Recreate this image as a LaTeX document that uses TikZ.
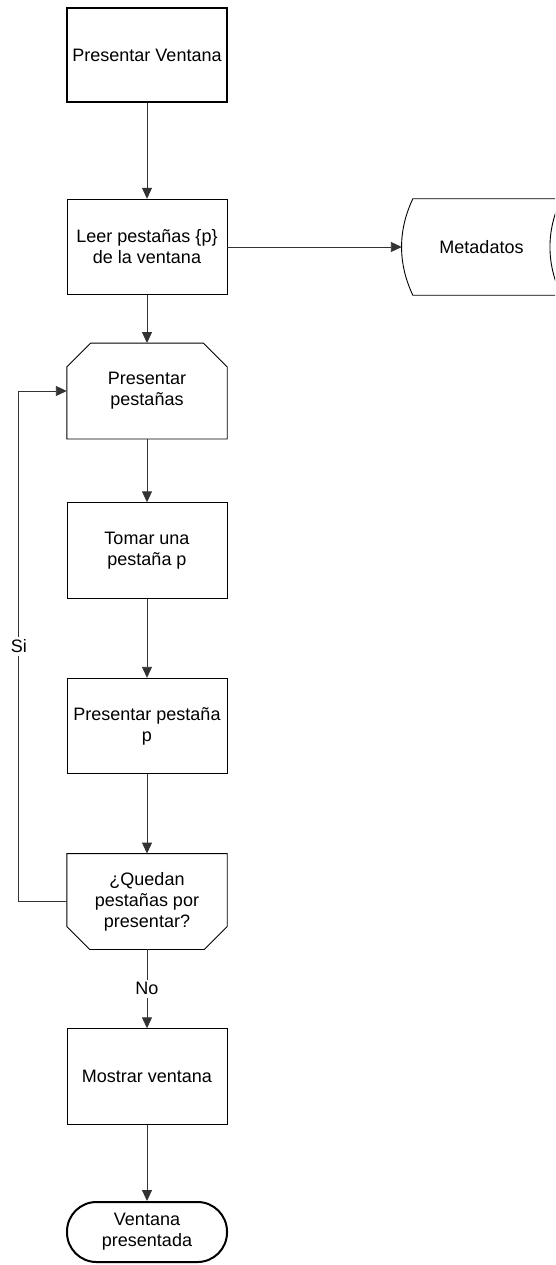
\documentclass[tikz,border=0pt]{standalone}
\usepackage{fontspec}
\setmainfont{Liberation Sans}
\usetikzlibrary{arrows.meta,calc}
\begin{document}
\begin{tikzpicture}[x=1pt,y=-1pt,
  every node/.style={font=\fontsize{18}{21}\selectfont, align=center, inner sep=0pt},
  box/.style={draw=black, line width=0.9pt, minimum width=160pt, minimum height=95.5pt},
  plainbox/.style={minimum width=160pt, minimum height=95.5pt},
  outline/.style={draw=black, line width=0.9pt},
  flow/.style={draw=black!80, line width=0.9pt, -{Triangle[length=11pt,width=10pt]}},
  lbl/.style={fill=white, inner sep=3pt}]
  \clip (0,0) rectangle (555,1265);
  \useasboundingbox (0,0) rectangle (555,1265);

  % process steps
  \node[box, line width=2.4pt, minimum height=94pt] (start) at (147,55) {Presentar Ventana};
  \node[box] (leer) at (147,247) {Leer pestañas \{p\}\\de la ventana};
  \node[plainbox] (lstart) at (147,391) {Presentar\\pestañas};
  \node[box] (tomar) at (147,550.5) {Tomar una\\pestaña p};
  \node[box] (pres) at (147,726) {Presentar pestaña\\p};
  \node[plainbox] (lend) at (147,901.5) {¿Quedan\\pestañas por\\presentar?};
  \node[box] (mostrar) at (147,1076.5) {Mostrar ventana};
  \node[draw=black, line width=2pt, minimum width=160pt, minimum height=60pt,
        rounded corners=29.5pt] (fin) at (147,1232) {Ventana\\presentada};
  \node[minimum width=159pt, minimum height=96pt] (meta) at (481.5,247) {Metadatos};

  % loop limit (open)
  \draw[outline] (lstart.south west) -- ($(lstart.north west)+(0,24)$)
    -- ($(lstart.north west)+(24,0)$) -- ($(lstart.north east)+(-24,0)$)
    -- ($(lstart.north east)+(0,24)$) -- (lstart.south east) -- cycle;
  % loop limit (close)
  \draw[outline] (lend.north west) -- (lend.north east)
    -- ($(lend.south east)+(0,-23)$) -- ($(lend.south east)+(-23,0)$)
    -- ($(lend.south west)+(23,0)$) -- ($(lend.south west)+(0,-23)$) -- cycle;
  % stored data
  \draw[outline] ($(meta.north west)+(11,0)$)
    .. controls ($(meta.north west)+(-4,32)$) and ($(meta.south west)+(-4,-32)$) .. ($(meta.south west)+(11,0)$)
    -- (meta.south east)
    .. controls ($(meta.south east)+(-15,-32)$) and ($(meta.north east)+(-15,32)$) .. (meta.north east)
    -- cycle;

  % connectors
  \draw[flow] (start) -- (leer);
  \draw[flow] (leer.east) -- (meta.west);
  \draw[flow] (leer) -- (lstart);
  \draw[flow] (lstart) -- (tomar);
  \draw[flow] (tomar) -- (pres);
  \draw[flow] (pres) -- (lend);
  \draw[flow] (lend) -- node[lbl] {No} (mostrar);
  \draw[flow] (mostrar) -- (fin);
  \coordinate (back) at ($(lend.west)+(-48,0)$);
  \draw[flow] (lend.west) -- (back) -- node[lbl] {Si} (back |- lstart.west) -- (lstart.west);
\end{tikzpicture}
\end{document}
